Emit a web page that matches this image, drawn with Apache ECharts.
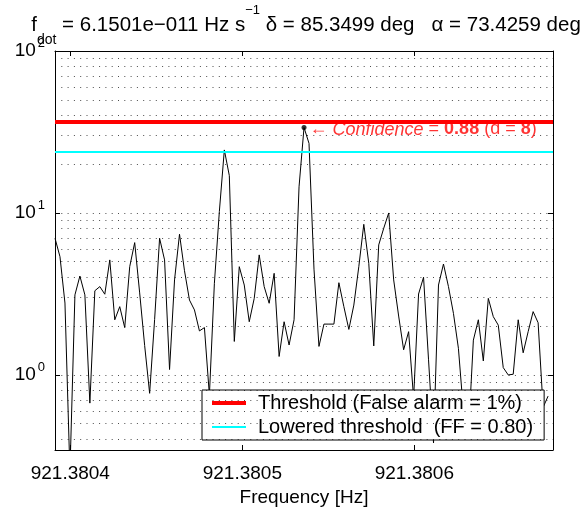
<!DOCTYPE html>
<html>
<head>
<meta charset="utf-8">
<script src="https://cdn.jsdelivr.net/npm/echarts@6/dist/echarts.min.js"></script>
<style>
html, body { margin: 0; padding: 0; background: #fff; }
#chart { width: 585px; height: 508px; }
</style>
</head>
<body>
<div id="chart"></div>
<script>
// frequency bins (uniform) and detection statistic
let freqStart = 921.3803911;
let freqStep = 2.8953e-6;
let power = [
	6.98, 5.37, 2.78, 0.25, 3.12, 4.08, 3.12, 0.67, 3.31, 3.51,
	3.15, 5.13, 2.19, 2.64, 1.96, 4.66, 6.56, 3.21, 1.52, 0.77,
	2.20, 6.98, 5.13, 1.08, 3.86, 7.39, 4.40, 2.90, 2.52, 1.87,
	1.96, 0.75, 3.68, 10.2, 24.5, 17.0, 1.61, 4.66, 3.59, 2.13,
	2.97, 5.51, 3.51, 2.77, 4.24, 1.30, 2.13, 1.53, 2.19, 14.5,
	33.7, 26.9, 4.50, 1.50, 2.06, 2.06, 2.06, 3.71, 2.64, 1.91,
	2.70, 4.66, 8.51, 4.89, 1.51, 6.35, 8.04, 10.0, 3.86, 2.31,
	1.43, 1.85, 0.72, 3.16, 4.01, 1.24, 0.38, 3.59, 4.84, 3.51,
	2.40, 1.46, 0.60, 0.42, 1.64, 2.19, 1.22, 2.97, 2.29, 2.03,
	1.11, 1.00, 1.01, 2.19, 1.37, 1.85, 2.46, 2.10, 0.63, 0.74
];
let peakIndex = 50;
let threshold = 36.4;
let loweredThreshold = 24.0;
let confidence = '0.88';
let dValue = '8';

let xMin = 921.3803911;
let xMax = 921.3806806;
let yMin = 0.344;
let yMax = 100;
let xTicks = [921.3804, 921.3805, 921.3806];
let yMajorGrid = [1, 10];
let yMinorGrid = [0.4, 0.5, 0.6, 0.7, 0.8, 0.9, 2, 3, 4, 5, 6, 7, 8, 9, 20, 30, 40, 50, 60, 70, 80, 90];

let FONT = '"Liberation Sans", Arial, Helvetica, sans-serif';

let lineData = [];
power.forEach((v, i) => {
	lineData.push([freqStart + i * freqStep, v]);
});

let gridLines = [];
xTicks.forEach(v => gridLines.push({ xAxis: v }));
yMajorGrid.forEach(v => gridLines.push({ yAxis: v }));
yMinorGrid.forEach(v => gridLines.push({ yAxis: v }));

let myChart = echarts.init(document.getElementById('chart'), null, { renderer: 'canvas' });

let option = {
	animation: false,
	backgroundColor: '#fff',
	title: {
		text: '{n|f}{sub|dot}{n| = 6.1501e\u2212011 Hz s}{sup|\u22121}{n| \u03b4 = 85.3499 deg   \u03b1 = 73.4259 deg}',
		left: 306,
		textAlign: 'center',
		top: 13,
		padding: 0,
		textStyle: {
			fontWeight: 'normal',
			rich: {
				n: { fontSize: 20.5, fontFamily: FONT, fontWeight: 'normal', color: '#000', lineHeight: 24 },
				sub: { fontSize: 14, fontFamily: FONT, fontWeight: 'normal', color: '#000', lineHeight: 14, padding: [30, 0, 0, 0] },
				sup: { fontSize: 13, fontFamily: FONT, fontWeight: 'normal', color: '#000', lineHeight: 13, padding: [0, 0, 30, 0] }
			}
		}
	},
	grid: {
		left: 55,
		right: 32,
		top: 51,
		bottom: 58,
		containLabel: false,
		outerBoundsMode: 'none'
	},
	legend: {
		left: 202,
		top: 390,
		orient: 'vertical',
		selectedMode: false,
		backgroundColor: '#fff',
		borderColor: '#000',
		borderWidth: 1,
		borderRadius: 0,
		padding: [2, 11, 2, 10],
		itemGap: 2,
		itemWidth: 34,
		itemHeight: 4,
		textStyle: { fontSize: 20, fontFamily: FONT, color: '#000', lineHeight: 22, padding: [0, 0, 0, 7] },
		data: [
			{ name: 'Threshold (False alarm = 1%)', icon: 'path://M0,0H34V4H0Z', itemStyle: { color: '#ff0000' } },
			{ name: 'Lowered threshold  (FF = 0.80)', icon: 'path://M0,0H34V2H0Z', itemStyle: { color: '#00ffff' } }
		]
	},
	xAxis: [
		{
			type: 'value',
			min: xMin,
			max: xMax,
			position: 'bottom',
			name: 'Frequency [Hz]',
			nameLocation: 'middle',
			nameGap: 32,
			nameTextStyle: { fontSize: 19, fontFamily: FONT, color: '#000' },
			axisLine: { show: true, onZero: false, lineStyle: { color: '#000', width: 1 } },
			axisTick: { show: true, inside: true, length: 5, customValues: xTicks, lineStyle: { color: '#000' } },
			axisLabel: {
				customValues: xTicks,
				margin: 14,
				fontSize: 19,
				fontFamily: FONT,
				color: '#000',
				formatter: v => v.toFixed(4)
			},
			splitLine: { show: false }
		},
		{
			type: 'value',
			min: xMin,
			max: xMax,
			position: 'top',
			axisLine: { show: true, onZero: false, lineStyle: { color: '#000', width: 1 } },
			axisTick: { show: true, inside: true, length: 5, customValues: xTicks, lineStyle: { color: '#000' } },
			axisLabel: { show: false },
			splitLine: { show: false }
		}
	],
	yAxis: [
		{
			type: 'log',
			logBase: 10,
			min: yMin,
			max: yMax,
			position: 'left',
			axisLine: { show: true, onZero: false, lineStyle: { color: '#000', width: 1 } },
			axisTick: { show: true, inside: true, length: 5, lineStyle: { color: '#000' } },
			axisLabel: {
				margin: 10,
				showMinLabel: false,
				formatter: function(v) {
					let e = Math.log10(v);
					if (Math.abs(e - Math.round(e)) > 1e-6) {
						return '';
					}
					return '{b|10}{s|' + Math.round(e) + '}';
				},
				rich: {
					b: { fontSize: 19, fontFamily: FONT, color: '#000', lineHeight: 21 },
					s: { fontSize: 13, fontFamily: FONT, color: '#000', lineHeight: 13, padding: [0, 0, 16, 2] }
				}
			},
			splitLine: { show: false }
		},
		{
			type: 'log',
			logBase: 10,
			min: yMin,
			max: yMax,
			position: 'right',
			axisLine: { show: true, onZero: false, lineStyle: { color: '#000', width: 1 } },
			axisTick: { show: true, inside: true, length: 5, lineStyle: { color: '#000' } },
			axisLabel: { show: false },
			splitLine: { show: false }
		}
	],
	series: [
		{
			name: 'grid',
			type: 'line',
			data: [],
			silent: true,
			markLine: {
				silent: true,
				animation: false,
				symbol: ['none', 'none'],
				label: { show: false },
				lineStyle: { color: '#000', width: 1, type: [1, 5.3], opacity: 0.7 },
				emphasis: { disabled: true },
				data: gridLines
			}
		},
		{
			name: 'Lowered threshold  (FF = 0.80)',
			type: 'line',
			data: [],
			itemStyle: { color: '#00ffff' },
			markLine: {
				silent: true,
				animation: false,
				symbol: ['none', 'none'],
				label: { show: false },
				lineStyle: { color: '#00ffff', width: 2, type: 'solid' },
				emphasis: { disabled: true },
				data: [{ yAxis: loweredThreshold }]
			}
		},
		{
			name: 'Threshold (False alarm = 1%)',
			type: 'line',
			data: [],
			itemStyle: { color: '#ff0000' },
			markLine: {
				silent: true,
				animation: false,
				symbol: ['none', 'none'],
				label: { show: false },
				lineStyle: { color: '#ff0000', width: 4, type: 'solid' },
				emphasis: { disabled: true },
				data: [{ yAxis: threshold }]
			}
		},
		{
			name: 'statistic',
			type: 'line',
			data: lineData,
			showSymbol: false,
			symbol: 'none',
			silent: true,
			lineStyle: { color: '#000', width: 1 },
			z: 3
		},
		{
			name: 'peak',
			type: 'scatter',
			data: [lineData[peakIndex]],
			symbol: 'circle',
			symbolSize: 5,
			itemStyle: { color: '#000' },
			silent: true,
			z: 4,
			label: {
				show: true,
				position: 'right',
				distance: 3,
				offset: [0, 2],
				formatter: '{n|\u2190 }{i|Confidence}{n| = }{b|' + confidence + '}{n| (d = }{b|' + dValue + '}{n|)}',
				rich: {
					n: { fontSize: 18, fontFamily: FONT, color: '#ff0000' },
					i: { fontSize: 18, fontFamily: FONT, color: '#ff0000', fontStyle: 'italic' },
					b: { fontSize: 18, fontFamily: FONT, color: '#ff0000', fontWeight: 'bold' }
				}
			}
		}
	]
};

myChart.setOption(option);
</script>
</body>
</html>
